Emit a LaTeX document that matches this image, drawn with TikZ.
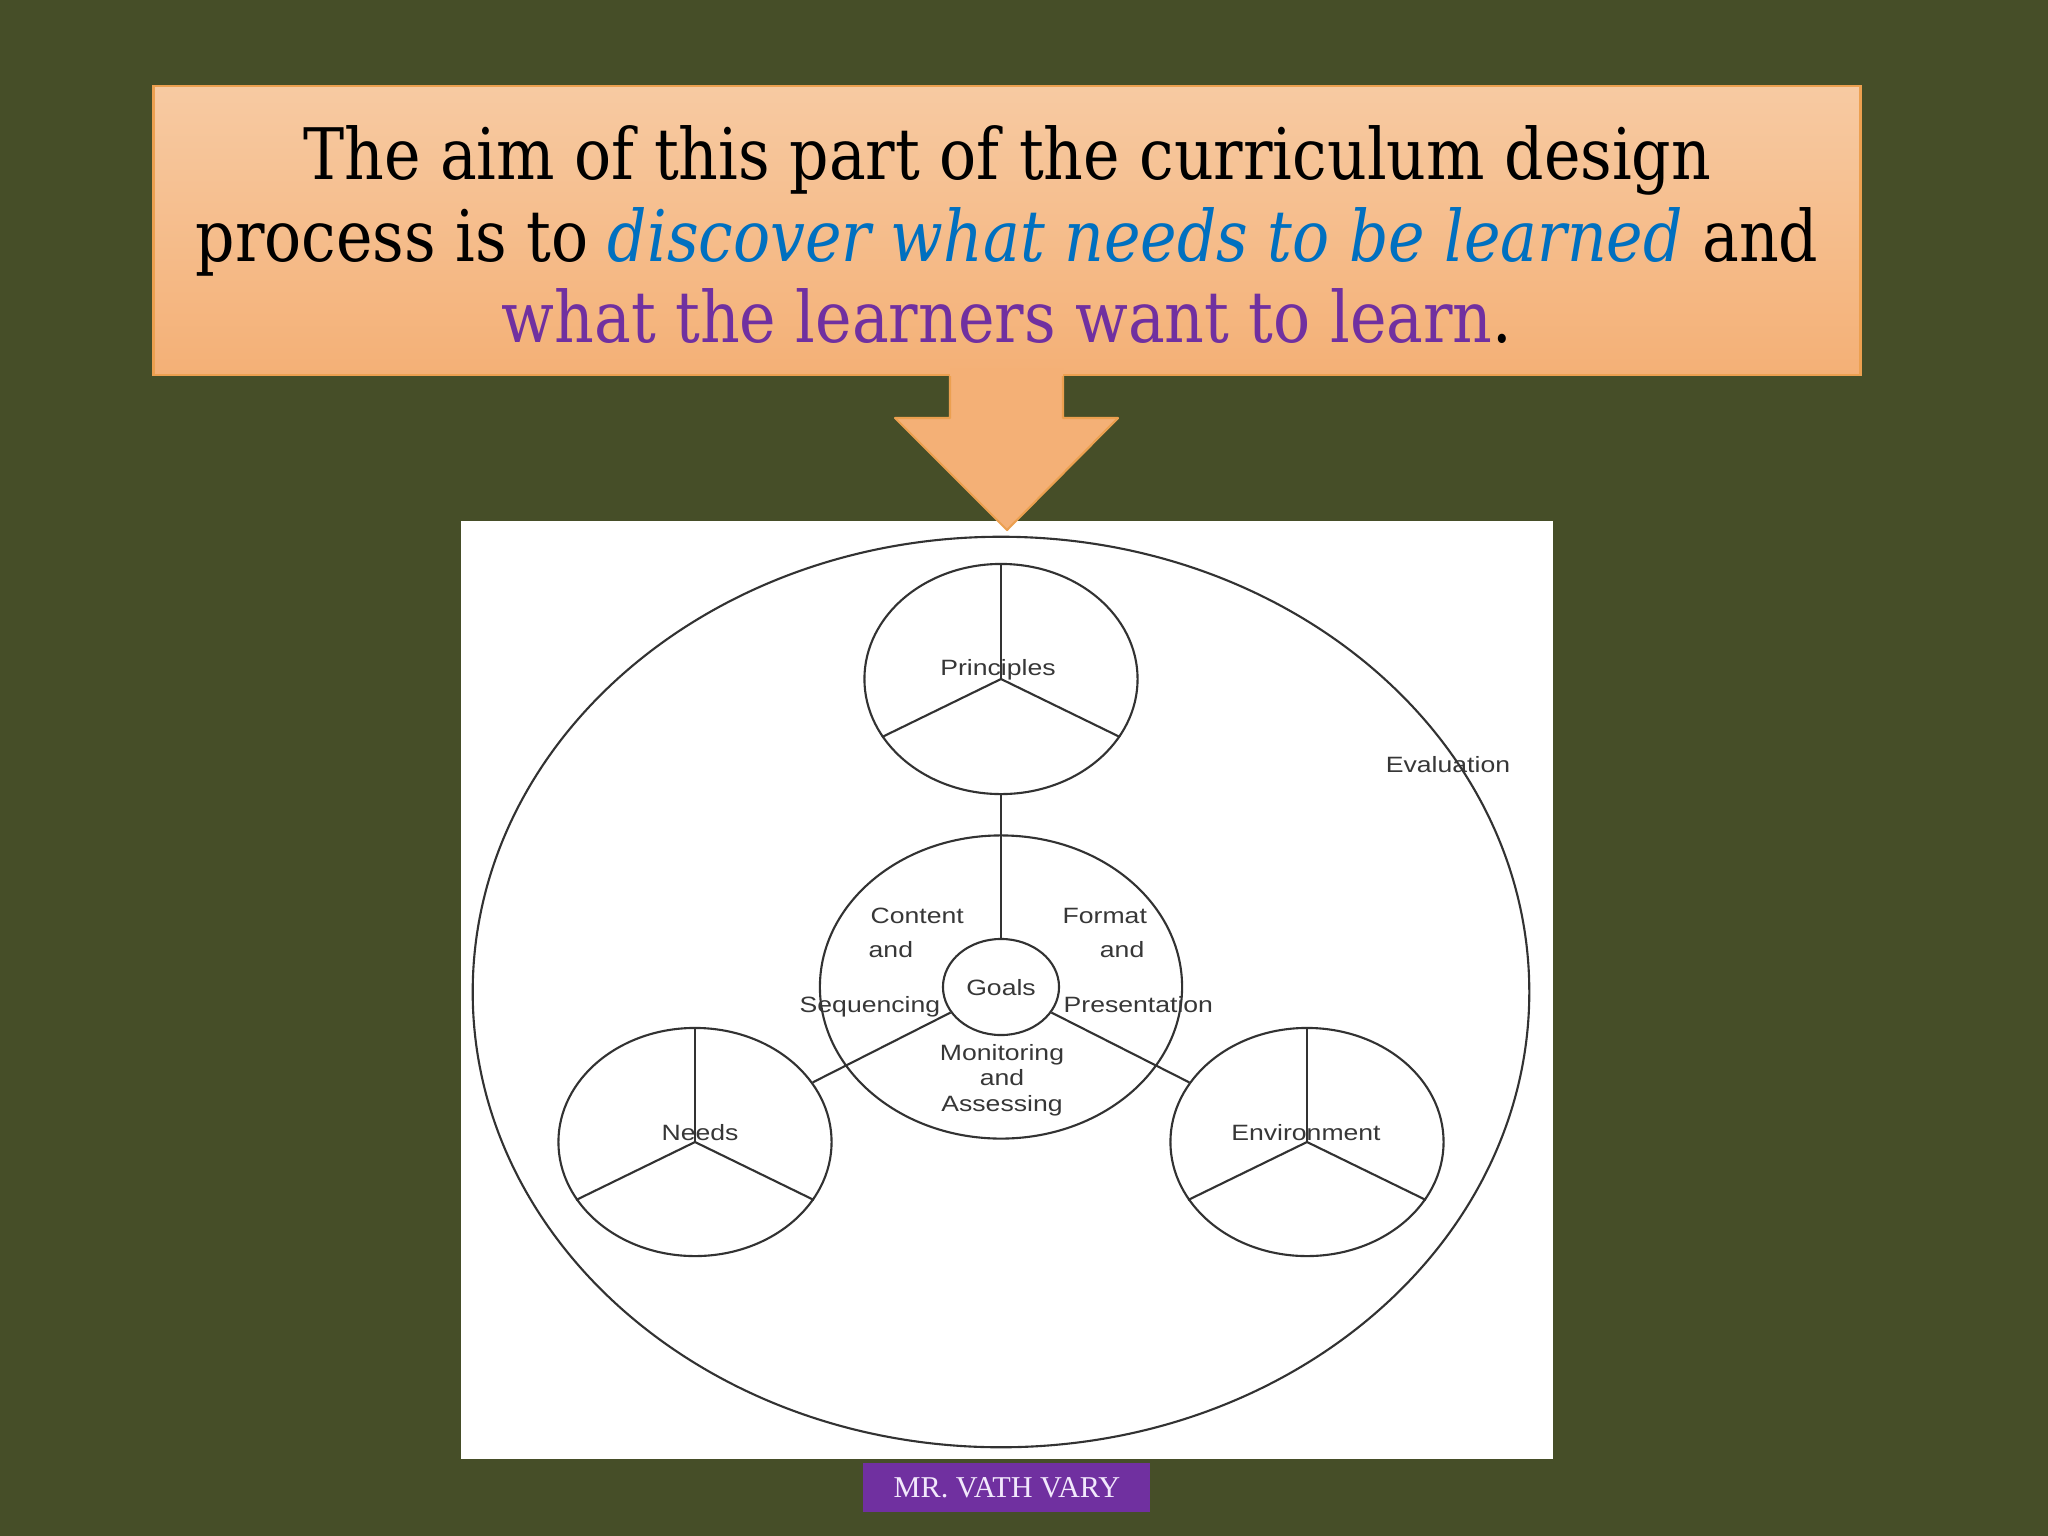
\documentclass[tikz,border=0pt]{standalone}
\usepackage{fontspec}
\usepackage{xcolor}
\usepackage{tikz}
\usetikzlibrary{positioning,calc,shapes.geometric,backgrounds}

\newfontfamily\aimfont[FakeStretch=0.965]{DejaVu Serif Condensed}
\newfontfamily\diagfont[FakeStretch=1.2]{Liberation Sans}
\newfontfamily\footfont{Liberation Serif}

\definecolor{olivebg}{RGB}{70,78,40}
\definecolor{peachtop}{RGB}{247,202,162}
\definecolor{peachbot}{RGB}{244,176,118}
\definecolor{peachedge}{RGB}{236,160,80}
\definecolor{aimblue}{RGB}{0,112,192}
\definecolor{aimpurple}{RGB}{112,48,160}
\definecolor{linegray}{RGB}{50,50,50}
\definecolor{textgray}{RGB}{55,55,55}
\definecolor{foottext}{RGB}{242,232,252}

\begin{document}
\begin{tikzpicture}[x=0.01cm, y=-0.01cm,
                titlebox/.style={rectangle, draw=peachedge, line width=0.8pt, top color=peachtop, bottom color=peachbot},
                titleline/.style={anchor=base, inner sep=0pt, font=\aimfont\fontsize{20.2}{24}\selectfont},
                ring/.style={ellipse, draw=linegray, line width=0.6pt, inner sep=0pt},
                spoke/.style={draw=linegray, line width=0.6pt},
                word/.style={inner sep=0pt, text=textgray, font=\diagfont\fontsize{6.3}{7}\selectfont}
            ]
                \useasboundingbox (0,0) rectangle (2048,1536);
                \fill[olivebg] (0,0) rectangle (2048,1536);

                % --- TITLE BOX ---
                \node[titlebox, minimum width=17.06cm, minimum height=2.89cm] (aimbox) at (1007,230.5) {};
                \node[titleline] (line1) at (1007,179) {The aim of this part of the curriculum design};
                \node[titleline] (line2) at (1007,261) {process is to \textcolor{aimblue}{\itshape discover what needs to be learned} and};
                \node[titleline] (line3) at (1007,342) {\textcolor{aimpurple}{what the learners want to learn}.};

                % --- PICTURE PANEL ---
                \fill[white] (461,521) rectangle (1553,1459);

                % --- ARROW ---
                \fill[peachbot] (950,368) -- (950,418) -- (895,418) -- (1007,530) -- (1118,418) -- (1063,418) -- (1063,368) -- cycle;
                \draw[peachedge, line width=0.6pt, line join=round] (950,376) -- (950,418) -- (895,418) -- (1007,530) -- (1118,418) -- (1063,418) -- (1063,376);

                % --- RINGS ---
                \node[ring, minimum width=10.56cm, minimum height=9.10cm] (eval) at (1001,992) {};
                \node[ring, minimum width=2.73cm, minimum height=2.30cm] (pr) at (1001,679) {};
                \node[ring, minimum width=3.62cm, minimum height=3.03cm] (mid) at (1001,987) {};
                \node[ring, minimum width=1.16cm, minimum height=0.96cm] (goals) at (1001,987) {};
                \node[ring, minimum width=2.73cm, minimum height=2.28cm] (needs) at (695,1142) {};
                \node[ring, minimum width=2.73cm, minimum height=2.28cm] (env) at (1307,1142) {};

                % spokes
                \foreach \c in {pr,needs,env} {
                    \draw[spoke] (\c.center) -- (\c.north);
                    \draw[spoke] (\c.center) -- (\c.206);
                    \draw[spoke] (\c.center) -- (\c.334);
                }
                \draw[spoke] (pr) -- (goals);
                \draw[spoke] (goals) -- (needs);
                \draw[spoke] (goals) -- (env);

                % --- LABELS ---
                \node[word, anchor=base] (prtext) at (998,675) {Principles};
                \node[word, anchor=base] (needstext) at (700,1140) {Needs};
                \node[word, anchor=base] (envtext) at (1306,1140) {Environment};
                \node[word, anchor=base] (evaltext) at (1448,772) {Evaluation};
                \node[word, anchor=base] (goalstext) at (1001,995) {Goals};

                \node[word, anchor=base west] (content) at (870,923) {Content};
                \node[word, anchor=base west] (and1) at (868,957) {and};
                \node[word, anchor=base west] (sequencing) at (799,1012) {Sequencing};

                \node[word, anchor=base west] (format) at (1062,923) {Format};
                \node[word, anchor=base east] (and2) at (1145,957) {and};
                \node[word, anchor=base west] (presentation) at (1063,1012) {Presentation};

                \node[word, anchor=base] (monitoring) at (1002,1060) {Monitoring};
                \node[word, anchor=base] (and3) at (1002,1085) {and};
                \node[word, anchor=base] (assessing) at (1002,1111) {Assessing};

                % --- FOOTER ---
                \node[rectangle, fill=aimpurple, minimum width=2.87cm, minimum height=0.49cm, inner sep=0pt] (footbox) at (1006.5,1487.5) {};
                \node[anchor=base, inner sep=0pt, text=foottext, font=\footfont\fontsize{8.6}{10}\selectfont] (author) at (1007,1497) {MR. VATH VARY};

            \end{tikzpicture}
\end{document}
